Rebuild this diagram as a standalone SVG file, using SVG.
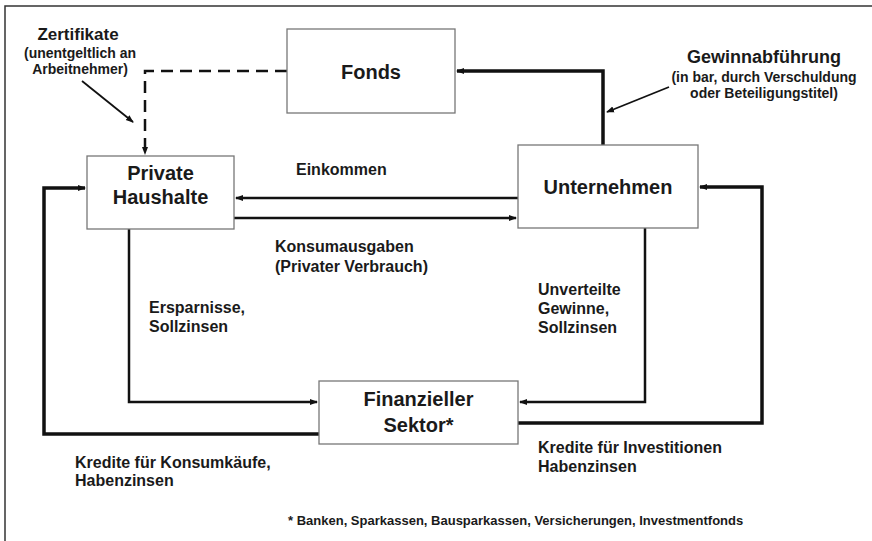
<svg xmlns="http://www.w3.org/2000/svg" width="872" height="541" viewBox="0 0 872 541">
<defs>
<marker id="ah" markerWidth="8" markerHeight="8" refX="7" refY="4" orient="auto" markerUnits="userSpaceOnUse">
<path d="M0,1 L8,4 L0,7 Z" fill="#111"/>
</marker>
<style>
.box{fill:#fff;stroke:#777;stroke-width:1.3}
.nt{font-family:"Liberation Sans",Arial,sans-serif;font-weight:bold;font-size:20px;fill:#1a1a1a;text-anchor:middle}
.lb{font-family:"Liberation Sans",Arial,sans-serif;font-weight:bold;font-size:16px;fill:#1a1a1a}
.sm{font-family:"Liberation Sans",Arial,sans-serif;font-weight:bold;font-size:14px;fill:#1a1a1a}
.ln{fill:none;stroke:#111;stroke-width:2.5}
.th{fill:none;stroke:#111;stroke-width:3.5}
</style>
</defs>
<rect width="872" height="541" fill="#fff"/>
<path d="M5,541 V6 H872" fill="none" stroke="#333" stroke-width="1.5"/>

<g id="connectors">
<path class="ln" d="M287,71 H145 V154" stroke-dasharray="12,7" marker-end="url(#ah)"/>
<path class="th" d="M603,145 V71 H457" marker-end="url(#ah)"/>
<path class="ln" d="M518,198 H236" marker-end="url(#ah)"/>
<path class="ln" d="M234,218 H516" marker-end="url(#ah)"/>
<path class="ln" d="M129,229 V402 H317" marker-end="url(#ah)"/>
<path class="th" d="M319,434 H44 V188 H85" marker-end="url(#ah)"/>
<path class="ln" d="M645,228 V402 H520" marker-end="url(#ah)"/>
<path class="th" d="M518,423 H762 V187 H700" marker-end="url(#ah)"/>
<path fill="none" stroke="#111" stroke-width="1.8" d="M82,81 L133,122" marker-end="url(#ah)"/>
<path fill="none" stroke="#111" stroke-width="1.8" d="M669,87 L607,112" marker-end="url(#ah)"/>
</g>

<g id="fonds">
<rect class="box" x="287" y="29" width="168" height="84"/>
<text class="nt" x="371" y="79">Fonds</text>
</g>
<g id="private-haushalte">
<rect class="box" x="87" y="156" width="147" height="73"/>
<text class="nt" x="160.5" y="180">Private</text>
<text class="nt" x="160.5" y="204">Haushalte</text>
</g>
<g id="unternehmen">
<rect class="box" x="518" y="145" width="180" height="83"/>
<text class="nt" x="608" y="194">Unternehmen</text>
</g>
<g id="finanzieller-sektor">
<rect class="box" x="319" y="381" width="199" height="63"/>
<text class="nt" x="418.5" y="406">Finanzieller</text>
<text class="nt" x="418.5" y="432">Sektor*</text>
</g>

<g id="labels">
<text class="lb" x="78" y="40" text-anchor="middle" style="font-size:17px">Zertifikate</text>
<text class="sm" x="80" y="58" text-anchor="middle">(unentgeltlich an</text>
<text class="sm" x="80" y="74" text-anchor="middle">Arbeitnehmer)</text>
<text class="lb" x="764" y="63" text-anchor="middle" style="font-size:18px">Gewinnabführung</text>
<text class="sm" x="764" y="82" text-anchor="middle">(in bar, durch Verschuldung</text>
<text class="sm" x="764" y="98" text-anchor="middle">oder Beteiligungstitel)</text>
<text class="lb" x="296" y="175">Einkommen</text>
<text class="lb" x="275" y="252">Konsumausgaben</text>
<text class="lb" x="275" y="272">(Privater Verbrauch)</text>
<text class="lb" x="149" y="313">Ersparnisse,</text>
<text class="lb" x="149" y="332">Sollzinsen</text>
<text class="lb" x="538" y="295">Unverteilte</text>
<text class="lb" x="538" y="314">Gewinne,</text>
<text class="lb" x="538" y="333">Sollzinsen</text>
<text class="lb" x="538" y="453">Kredite für Investitionen</text>
<text class="lb" x="538" y="472">Habenzinsen</text>
<text class="lb" x="75" y="468">Kredite für Konsumkäufe,</text>
<text class="lb" x="75" y="486">Habenzinsen</text>
<text class="sm" x="288" y="525" style="font-size:13px">* Banken, Sparkassen, Bausparkassen, Versicherungen, Investmentfonds</text>
</g>
</svg>
